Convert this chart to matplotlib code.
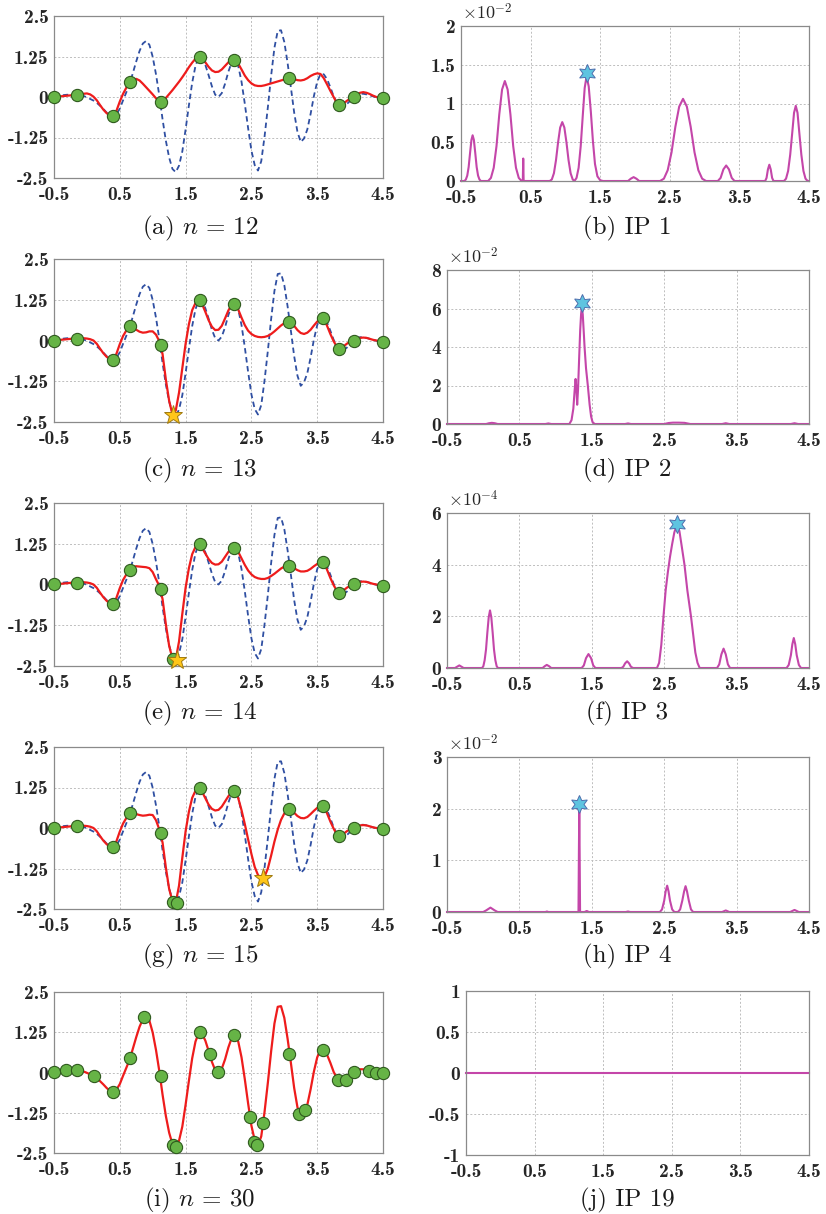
import matplotlib
matplotlib.use('Agg')
import matplotlib.pyplot as plt
import numpy as np

plt.rcParams['mathtext.fontset'] = 'cm'
plt.rcParams['axes.unicode_minus'] = False

# ---- left column: true function and surrogate curves, sampled every 0.05 on [-0.5, 4.5]
x_grid = np.round(np.arange(-0.5, 4.5001, 0.05), 2)

true_y = [0.00, 0.02, 0.04, 0.06, 0.07, 0.07, 0.07, 0.07, 0.06, 0.03,
          -0.01, -0.06, -0.11, -0.18, -0.27, -0.37, -0.48, -0.57, -0.60, -0.53,
          -0.36, -0.10, 0.15, 0.40, 0.75, 1.10, 1.42, 1.65, 1.73, 1.61,
          1.24, 0.70, 0.05, -0.69, -1.35, -1.87, -2.22, -2.32, -2.12, -1.68,
          -1.00, -0.26, 0.44, 0.96, 1.23, 1.20, 0.99, 0.67, 0.33, 0.07,
          0.00, 0.12, 0.41, 0.78, 1.07, 1.16, 0.96, 0.47, -0.21, -0.96,
          -1.65, -2.10, -2.27, -1.98, -1.22, -0.32, 0.66, 1.52, 2.04, 2.06,
          1.70, 1.05, 0.30, -0.48, -1.08, -1.39, -1.28, -1.00, -0.52, 0.03,
          0.47, 0.71, 0.70, 0.55, 0.30, 0.02, -0.18, -0.28, -0.29, -0.22,
          -0.12, -0.01, 0.07, 0.10, 0.10, 0.08, 0.05, 0.02, -0.01, -0.03,
          -0.03]

red_a = [0.00, 0.01, 0.02, 0.03, 0.04, 0.05, 0.06, 0.06, 0.08, 0.10,
         0.11, 0.08, 0.01, -0.10, -0.25, -0.39, -0.50, -0.57, -0.60, -0.42,
         -0.14, 0.10, 0.29, 0.44, 0.53, 0.56, 0.51, 0.41, 0.30, 0.19,
         0.08, -0.04, -0.13, -0.12, -0.03, 0.09, 0.21, 0.34, 0.47, 0.61,
         0.76, 0.92, 1.06, 1.18, 1.24, 1.20, 1.07, 0.93, 0.82, 0.77,
         0.78, 0.85, 0.96, 1.07, 1.13, 1.13, 1.03, 0.85, 0.66, 0.52,
         0.42, 0.36, 0.34, 0.34, 0.36, 0.39, 0.42, 0.45, 0.48, 0.51,
         0.54, 0.57, 0.58, 0.55, 0.52, 0.51, 0.53, 0.58, 0.65, 0.70,
         0.73, 0.71, 0.58, 0.39, 0.19, 0.00, -0.19, -0.25, -0.20, -0.12,
         -0.05, 0.00, 0.07, 0.13, 0.15, 0.13, 0.09, 0.04, 0.00, -0.03,
         -0.04]

# shared start (-0.5 .. 0.60) and end (3.65 .. 4.5) of the later surrogates
red_head = [0.00, 0.01, 0.02, 0.03, 0.04, 0.05, 0.06, 0.06, 0.07, 0.07,
            0.06, 0.04, 0.00, -0.10, -0.25, -0.39, -0.50, -0.58, -0.61, -0.40,
            -0.11, 0.14, 0.31]
red_tail = [0.45, 0.20, -0.02, -0.20, -0.24, -0.18, -0.10, -0.04, 0.00, 0.05,
            0.08, 0.09, 0.08, 0.05, 0.02, 0.00, -0.02, -0.04]

red_c_mid = [0.42, 0.40, 0.33, 0.27, 0.24, 0.25, 0.28, 0.28, 0.18, -0.02,
             -0.42, -1.20, -1.85, -2.27, -2.15, -1.60, -0.85, -0.10, 0.50, 0.93,
             1.15, 1.22, 1.12, 0.88, 0.62, 0.42, 0.32, 0.33, 0.45, 0.68,
             0.92, 1.10, 1.13, 0.95, 0.70, 0.47, 0.30, 0.20, 0.14, 0.11,
             0.10, 0.11, 0.14, 0.20, 0.28, 0.37, 0.46, 0.53, 0.57, 0.56,
             0.45, 0.32, 0.23, 0.20, 0.24, 0.33, 0.46, 0.58, 0.66, 0.66]
red_e_mid = [0.44, 0.54, 0.56, 0.55, 0.54, 0.53, 0.50, 0.38, 0.16, -0.04,
             -0.45, -1.22, -1.88, -2.27, -2.30, -1.75, -0.90, -0.10, 0.50, 0.93,
             1.15, 1.22, 1.12, 0.95, 0.78, 0.66, 0.61, 0.62, 0.70, 0.85,
             1.00, 1.11, 1.13, 1.00, 0.80, 0.60, 0.43, 0.31, 0.23, 0.19,
             0.17, 0.17, 0.20, 0.26, 0.33, 0.41, 0.49, 0.55, 0.58, 0.57,
             0.50, 0.44, 0.40, 0.40, 0.42, 0.48, 0.56, 0.63, 0.67, 0.66]
red_g_mid = [0.43, 0.46, 0.43, 0.40, 0.38, 0.39, 0.41, 0.40, 0.24, -0.04,
             -0.45, -1.22, -1.88, -2.26, -2.31, -1.78, -0.92, -0.10, 0.50, 0.93,
             1.15, 1.22, 1.12, 0.92, 0.72, 0.59, 0.54, 0.56, 0.66, 0.82,
             0.98, 1.10, 1.13, 0.92, 0.55, 0.12, -0.35, -0.80, -1.20, -1.45,
             -1.55, -1.50, -1.25, -0.85, -0.42, -0.05, 0.25, 0.45, 0.56, 0.57,
             0.47, 0.37, 0.31, 0.30, 0.34, 0.43, 0.53, 0.62, 0.67, 0.66]

red_c = red_head + red_c_mid + red_tail
red_e = red_head + red_e_mid + red_tail
red_g = red_head + red_g_mid + red_tail

# sampled points
pts_a_x = [-0.5, -0.145, 0.398, 0.662, 1.119, 1.718, 2.241, 3.079, 3.825, 4.063, 4.5]
pts_a_y = [0.0, 0.06, -0.60, 0.45, -0.14, 1.24, 1.13, 0.58, -0.26, 0.0, -0.04]
pts_c_x = pts_a_x + [3.581]
pts_c_y = pts_a_y + [0.68]
pts_e_x = pts_c_x + [1.302]
pts_e_y = pts_c_y + [-2.27]
pts_g_x = pts_e_x + [1.363]
pts_g_y = pts_e_y + [-2.31]
pts_i_x = [-0.5, -0.322, -0.145, 0.104, 0.398, 0.662, 0.871, 1.119, 1.302, 1.348,
           1.718, 1.871, 1.987, 2.241, 2.480, 2.541, 2.591, 2.673, 3.079, 3.221,
           3.317, 3.581, 3.815, 3.937, 4.063, 4.282, 4.398, 4.5]
pts_i_y = [0.02, 0.07, 0.09, -0.11, -0.60, 0.46, 1.73, -0.11, -2.25, -2.31,
           1.25, 0.57, 0.01, 1.18, -1.39, -2.15, -2.25, -1.56, 0.59, -1.30,
           -1.17, 0.70, -0.24, -0.24, 0.02, 0.06, -0.01, -0.03]

# new candidate points (yellow stars)
star_c = (1.302, -2.27)
star_e = (1.363, -2.31)
star_g = (2.673, -1.55)

# ---- right column: improvement probability curves (x, value in units of 10^exp)
ip1 = [(-0.5, 0), (-0.45, 0), (-0.43, 0.02), (-0.41, 0.07), (-0.39, 0.18), (-0.37, 0.36),
       (-0.35, 0.53), (-0.333, 0.59), (-0.315, 0.53), (-0.295, 0.36), (-0.275, 0.18),
       (-0.255, 0.07), (-0.235, 0.02), (-0.215, 0),
       (-0.11, 0), (-0.07, 0.04), (-0.03, 0.17), (0.01, 0.45), (0.05, 0.86), (0.09, 1.18),
       (0.13, 1.29), (0.17, 1.18), (0.21, 0.86), (0.25, 0.45), (0.29, 0.17), (0.33, 0.04),
       (0.37, 0), (0.388, 0), (0.394, 0.29), (0.400, 0),
       (0.775, 0), (0.805, 0.02), (0.835, 0.1), (0.865, 0.27), (0.895, 0.5), (0.925, 0.69),
       (0.955, 0.76), (0.985, 0.69), (1.015, 0.5), (1.045, 0.27), (1.075, 0.1), (1.105, 0.02),
       (1.13, 0), (1.16, 0.04), (1.19, 0.17), (1.22, 0.45), (1.25, 0.85), (1.277, 1.2),
       (1.304, 1.35), (1.335, 1.22), (1.365, 0.9), (1.395, 0.52), (1.425, 0.22), (1.46, 0.06),
       (1.5, 0.01), (1.54, 0),
       (1.90, 0), (1.94, 0.03), (1.98, 0.05), (2.02, 0.03), (2.06, 0),
       (2.36, 0), (2.415, 0.03), (2.47, 0.14), (2.525, 0.37), (2.58, 0.7), (2.635, 0.96),
       (2.69, 1.06), (2.745, 0.96), (2.80, 0.7), (2.855, 0.37), (2.91, 0.14), (2.965, 0.03),
       (3.02, 0),
       (3.19, 0), (3.23, 0.04), (3.27, 0.15), (3.31, 0.2), (3.35, 0.15), (3.39, 0.04), (3.43, 0),
       (3.87, 0), (3.89, 0.04), (3.91, 0.15), (3.93, 0.21), (3.95, 0.15), (3.97, 0.04), (3.99, 0),
       (4.14, 0), (4.17, 0.03), (4.2, 0.13), (4.23, 0.34), (4.26, 0.63), (4.285, 0.88),
       (4.31, 0.97), (4.335, 0.88), (4.36, 0.63), (4.39, 0.34), (4.42, 0.13), (4.45, 0.03),
       (4.48, 0), (4.5, 0)]

ip2 = [(-0.5, 0), (0.04, 0), (0.08, 0.04), (0.12, 0.06), (0.16, 0.04), (0.2, 0),
       (0.86, 0), (0.9, 0.03), (0.94, 0),
       (1.19, 0), (1.22, 0.2), (1.245, 0.8), (1.262, 1.7), (1.276, 2.34), (1.288, 1.8),
       (1.298, 1.0), (1.31, 1.8), (1.325, 3.4), (1.34, 4.9), (1.352, 5.7), (1.362, 6.05),
       (1.375, 5.7), (1.39, 4.7), (1.40, 4.0), (1.42, 2.9), (1.445, 2.0), (1.47, 1.0),
       (1.49, 0.4), (1.51, 0.1), (1.54, 0),
       (1.96, 0), (2.0, 0.03), (2.04, 0), (2.5, 0), (2.56, 0.05), (2.62, 0.07), (2.7, 0.07),
       (2.78, 0.06), (2.86, 0), (3.3, 0), (3.35, 0.04), (3.4, 0), (4.25, 0), (4.3, 0.04),
       (4.35, 0), (4.5, 0)]

ip3 = [(-0.5, 0), (-0.39, 0), (-0.36, 0.05), (-0.33, 0.1), (-0.30, 0.05), (-0.27, 0),
       (-0.016, 0), (0.002, 0.07), (0.02, 0.3), (0.039, 0.72), (0.057, 1.36), (0.076, 1.96),
       (0.094, 2.23), (0.112, 1.96), (0.131, 1.36), (0.149, 0.72), (0.168, 0.3), (0.186, 0.07),
       (0.204, 0),
       (0.82, 0), (0.85, 0.07), (0.878, 0.12), (0.91, 0.07), (0.94, 0),
       (1.36, 0), (1.39, 0.1), (1.42, 0.38), (1.454, 0.54), (1.49, 0.38), (1.52, 0.1), (1.55, 0),
       (1.91, 0), (1.935, 0.05), (1.96, 0.18), (1.988, 0.26), (2.015, 0.18), (2.04, 0.05), (2.07, 0),
       (2.40, 0), (2.43, 0.2), (2.46, 0.9), (2.49, 2.0), (2.52, 3.0), (2.55, 3.7), (2.58, 4.3),
       (2.61, 4.8), (2.64, 5.25), (2.675, 5.55), (2.71, 5.3), (2.74, 4.75), (2.78, 4.0),
       (2.82, 3.0), (2.87, 2.0), (2.9, 1.3), (2.93, 0.6), (2.96, 0.2), (2.99, 0),
       (3.23, 0), (3.26, 0.14), (3.29, 0.53), (3.32, 0.75), (3.35, 0.53), (3.38, 0.14), (3.41, 0),
       (4.19, 0), (4.22, 0.12), (4.25, 0.5), (4.27, 0.92), (4.29, 1.16), (4.31, 0.92),
       (4.33, 0.5), (4.36, 0.12), (4.39, 0), (4.5, 0)]

ip4 = [(-0.5, 0), (0.0, 0), (0.04, 0.03), (0.1, 0.085), (0.16, 0.03), (0.2, 0),
       (0.86, 0), (0.88, 0.01), (0.9, 0),
       (1.316, 0), (1.322, 1.2), (1.327, 1.98), (1.332, 1.2), (1.338, 0),
       (1.40, 0), (1.43, 0.02), (1.46, 0), (1.97, 0), (2.0, 0.01), (2.03, 0),
       (2.44, 0), (2.47, 0.05), (2.5, 0.22), (2.52, 0.4), (2.541, 0.51), (2.56, 0.4),
       (2.58, 0.22), (2.61, 0.05), (2.64, 0),
       (2.69, 0), (2.72, 0.05), (2.75, 0.22), (2.775, 0.4), (2.795, 0.5), (2.815, 0.4),
       (2.84, 0.22), (2.87, 0.05), (2.90, 0),
       (3.3, 0), (3.35, 0.03), (3.4, 0), (4.24, 0), (4.3, 0.04), (4.36, 0), (4.5, 0)]

ip19 = [(-0.5, 0), (4.5, 0)]

# maxima of the improvement probability (cyan stars)
ip_stars = [(1.304, 1.39), (1.362, 6.3), (2.675, 5.59), (1.327, 2.09), None]

x_ticks = [-0.5, 0.5, 1.5, 2.5, 3.5, 4.5]
x_labels = ['-0.5', '0.5', '1.5', '2.5', '3.5', '4.5']
left_yticks = [-2.5, -1.25, 0, 1.25, 2.5]
left_ylabels = ['-2.5', '-1.25', '0', '1.25', '2.5']

right_yticks = [[0, 0.5, 1, 1.5, 2], [0, 2, 4, 6, 8], [0, 2, 4, 6], [0, 1, 2, 3],
                [-1, -0.5, 0, 0.5, 1]]
right_ylabels = [['0', '0.5', '1', '1.5', '2'], ['0', '2', '4', '6', '8'],
                 ['0', '2', '4', '6'], ['0', '1', '2', '3'], ['-1', '-0.5', '0', '0.5', '1']]
right_exp = [-2, -2, -4, -2, None]

left_captions = [r'(a) $n\,=\,12$', r'(c) $n\,=\,13$', r'(e) $n\,=\,14$',
                 r'(g) $n\,=\,15$', r'(i) $n\,=\,30$']
right_captions = ['(b) IP 1', '(d) IP 2', '(f) IP 3', '(h) IP 4', '(j) IP 19']

# ---- layout in pixels (left, right, top, bottom)
W, H = 826, 1214
left_boxes = [(54, 383, 16, 178), (54, 383, 259, 422), (54, 383, 503, 666),
              (54, 383, 747, 909), (54, 383, 992, 1153)]
right_boxes = [(461, 809, 26, 181), (447, 809, 270, 424), (447, 809, 513, 668),
               (447, 809, 757, 912), (466, 809, 991, 1155)]
caption_y = [228, 470, 713, 956, 1200]

BLUE = '#2f4fa2'
RED = '#ee1c1c'
GREEN = '#66b446'
GREEN_EDGE = '#2f5a1e'
MAGENTA = '#c446a9'
TXT = '#262626'

fig = plt.figure(figsize=(W / 100, H / 100), dpi=100)


def make_axes(box):
    l, r, t, b = box
    return fig.add_axes([l / W, 1 - b / H, (r - l) / W, (b - t) / H])


def style(ax, yticks, ylabels, ylim):
    ax.set_xlim(-0.5, 4.5)
    ax.set_ylim(*ylim)
    ax.set_xticks(x_ticks)
    ax.set_xticklabels(x_labels)
    ax.set_yticks(yticks)
    ax.set_yticklabels(ylabels)
    ax.grid(True, color='#bdbdbd', linestyle=(0, (2, 2)), linewidth=0.7)
    ax.set_axisbelow(True)
    ax.tick_params(length=0, labelsize=14, labelcolor=TXT)
    ax.tick_params(axis='x', pad=6)
    ax.tick_params(axis='y', pad=4)
    for lab in ax.get_xticklabels() + ax.get_yticklabels():
        lab.set_fontfamily('cmb10')
    for s in ax.spines.values():
        s.set_color('#8a8a8a')
        s.set_linewidth(0.9)


reds = [red_a, red_c, red_e, red_g, None]
pts = [(pts_a_x, pts_a_y), (pts_c_x, pts_c_y), (pts_e_x, pts_e_y), (pts_g_x, pts_g_y),
       (pts_i_x, pts_i_y)]
stars = [None, star_c, star_e, star_g, None]
ips = [ip1, ip2, ip3, ip4, ip19]

for i in range(5):
    ax = make_axes(left_boxes[i])
    style(ax, left_yticks, left_ylabels, (-2.5, 2.5))
    if reds[i] is not None:
        ax.plot(x_grid, true_y, color=BLUE, linestyle=(0, (3, 2)), linewidth=1.3)
        ax.plot(x_grid, reds[i], color=RED, linewidth=1.6)
    else:
        ax.plot(x_grid, true_y, color=RED, linewidth=1.6)
    ax.plot(pts[i][0], pts[i][1], 'o', ms=8.8, mfc=GREEN, mec=GREEN_EDGE, mew=0.8,
            clip_on=False, zorder=5)
    if stars[i] is not None:
        ax.plot(*stars[i], marker='*', ms=14, mfc='#ffc619', mec='#a07a10', mew=0.7,
                clip_on=False, zorder=6)
    fig.text(200 / W, 1 - caption_y[i] / H, left_captions[i], ha='center', va='center',
             fontsize=18, family='cmr10', color='#1a1a1a')

    ax = make_axes(right_boxes[i])
    yt = right_yticks[i]
    style(ax, yt, right_ylabels[i], (yt[0], yt[-1]))
    xs, ys = np.array(ips[i]).T
    ax.plot(xs, ys, color=MAGENTA, linewidth=1.5, clip_on=False)
    if ip_stars[i] is not None:
        ax.plot(*ip_stars[i], marker=(6, 1, 0), ms=13, mfc='#5ec4e0', mec='#4f6fae', mew=0.7,
                zorder=6)
    if right_exp[i] is not None:
        ax.annotate(r'$\times10^{%d}$' % right_exp[i], xy=(0, 1), xycoords='axes fraction',
                    xytext=(1, 2), textcoords='offset points', ha='left', va='bottom',
                    fontsize=13, color=TXT)
    fig.text(627 / W, 1 - caption_y[i] / H, right_captions[i], ha='center', va='center',
             fontsize=18, family='cmr10', color='#1a1a1a')

fig.savefig('out.png', dpi=100)
